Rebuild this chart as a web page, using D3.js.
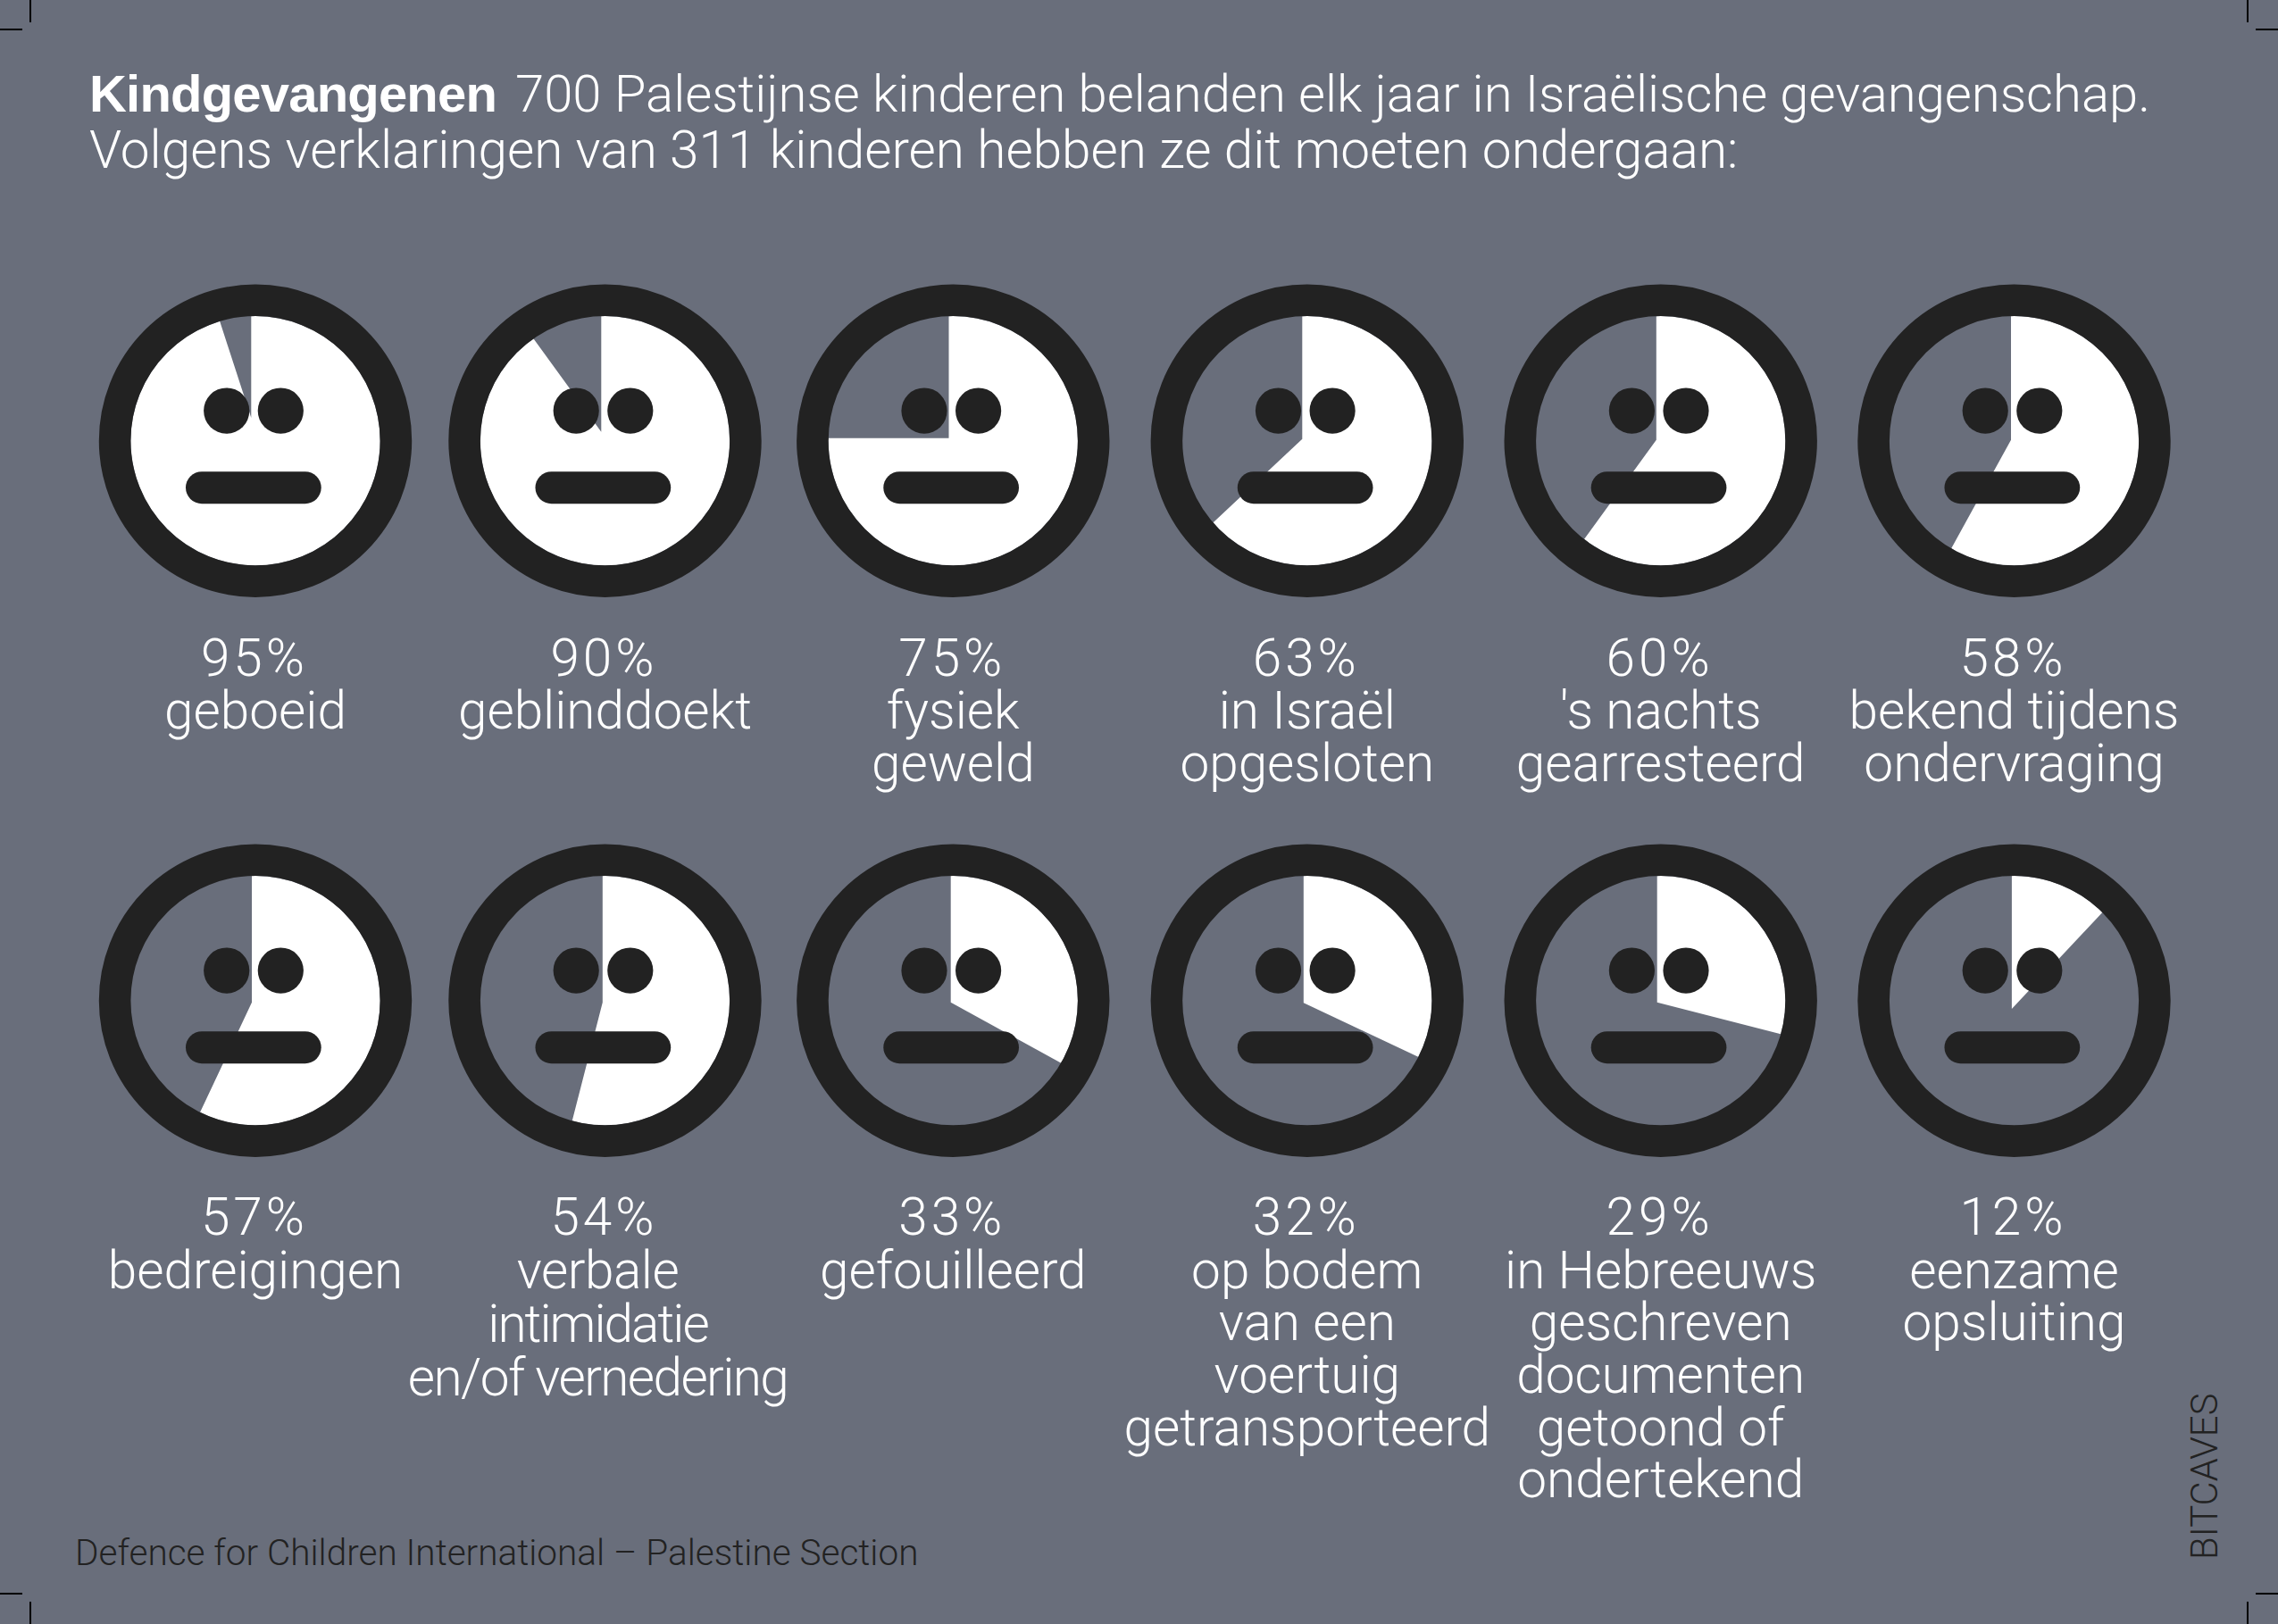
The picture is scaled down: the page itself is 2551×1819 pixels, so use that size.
<!DOCTYPE html>
<html><head><meta charset="utf-8">
<script src="https://cdn.jsdelivr.net/npm/d3@7"></script>
<style>html,body{margin:0;padding:0;background:#696e7b}svg{display:block}text{font-family:Roboto,"Liberation Sans",sans-serif}</style>
</head><body><div id="c"></div>
<script>
const percents=[95,90,75,63,60,58,57,54,33,32,29,12];
const captions=[["geboeid"],["geblinddoekt"],["fysiek","geweld"],["in Israël","opgesloten"],["'s nachts","gearresteerd"],["bekend tijdens","ondervraging"],
["bedreigingen"],["verbale","intimidatie","en/of vernedering"],["gefouilleerd"],["op bodem","van een","voertuig","getransporteerd"],["in Hebreeuws","geschreven","documenten","getoond of","ondertekend"],["eenzame","opsluiting"]];
const titleBold="Kindgevangenen";
const titleRest="700 Palestijnse kinderen belanden elk jaar in Israëlische gevangenschap.";
const titleLine2="Volgens verklaringen van 311 kinderen hebben ze dit moeten ondergaan:";
const sourceText="Defence for Children International – Palestine Section";
const creditText="BITCAVES";

const W=2551,H=1819,BG="#696e7b",DARK="#222222";
const colX=[286,677.5,1067.3,1463.8,1859.7,2255.5], rowY=[493.7,1120.7];
const rowPct=[757,1382.5], rowCap=[816,1442.5], rowLead=[59,58.7];
// where each wedge's tip sits relative to its face
const tipDx=[-4.7,-4.2,-4.8,-5.5,-4.9,-3.5,-4,-2.7,-2.6,-4,-4,-2.6];
const tipDy=[-25.7,-10,-3,-2,-1,-1,2,2,2,2.6,2,9.3];
const svg=d3.select("#c").append("svg").attr("width",W).attr("height",H);
svg.append("rect").attr("width",W).attr("height",H).attr("fill",BG);
svg.append("defs").append("clipPath").attr("id","face").append("circle").attr("r",139.7);

const angle=d3.scaleLinear().domain([0,100]).range([0,2*Math.PI]);
const wedge=d3.arc().innerRadius(0).outerRadius(200).startAngle(0);
const SIZE=58.5;

percents.forEach((p,i)=>{
  const r=Math.floor(i/6),cx=colX[i%6],cy=rowY[r];
  const g=svg.append("g").attr("transform",`translate(${cx},${cy})`);
  g.append("g").attr("clip-path","url(#face)").append("path")
    .attr("transform",`translate(${tipDx[i]},${tipDy[i]})`)
    .attr("d",wedge({endAngle:angle(p)})).attr("fill","#fff");
  g.append("circle").attr("r",157.4).attr("fill","none").attr("stroke",DARK).attr("stroke-width",35.6);
  g.append("ellipse").attr("cx",-32.3).attr("cy",-33.6).attr("rx",25.6).attr("ry",25.7).attr("fill",DARK);
  g.append("ellipse").attr("cx",28.3).attr("cy",-33.6).attr("rx",25.6).attr("ry",25.7).attr("fill",DARK);
  g.append("rect").attr("x",-78).attr("y",34.5).attr("width",151.7).attr("height",36).attr("rx",18).attr("fill",DARK);
  const lead=i===7?60:rowLead[r];
  const t=svg.append("g").attr("text-anchor","middle").attr("fill","#fff").attr("font-size",SIZE).attr("font-weight",300);
  t.append("text").attr("x",cx-1).attr("y",rowPct[r]).attr("letter-spacing",4).text(p+"%");
  const dx=i===7?-8:0;
  const squeeze=i===7?[-0.5,-2,-1.6]:captions[i].map(()=>0);
  captions[i].forEach((s,j)=>t.append("text").attr("x",cx+dx).attr("y",rowCap[r]+lead*j).attr("letter-spacing",squeeze[j]).text(s));
});

svg.append("text").attr("x",100).attr("y",125).attr("fill","#fff").attr("font-size",58).attr("font-weight",700)
  .attr("letter-spacing",-0.8).style("font-family",'"Liberation Sans",sans-serif').text(titleBold);
svg.append("text").attr("x",577).attr("y",125).attr("fill","#fff").attr("font-size",58).attr("font-weight",300).text(titleRest);
svg.append("text").attr("x",100).attr("y",188).attr("fill","#fff").attr("font-size",58.5).attr("font-weight",300).text(titleLine2);
svg.append("text").attr("x",84).attr("y",1753).attr("fill",DARK).attr("font-size",40.5).attr("font-weight",300).text(sourceText);
svg.append("text").attr("transform","translate(2483,1747) rotate(-90)").attr("fill",DARK).attr("font-size",41.8).attr("font-weight",300).text(creditText);

const crops=[[34,0,34,25],[0,33,25,33],[2517,0,2517,25],[2526,33,2551,33],[0,1785,25,1785],[34,1794,34,1819],[2526,1785,2551,1785],[2517,1794,2517,1819]];
svg.selectAll("line.crop").data(crops).join("line").attr("class","crop")
 .attr("x1",d=>d[0]).attr("y1",d=>d[1]).attr("x2",d=>d[2]).attr("y2",d=>d[3]).attr("stroke","#000").attr("stroke-width",2);
</script></body></html>
